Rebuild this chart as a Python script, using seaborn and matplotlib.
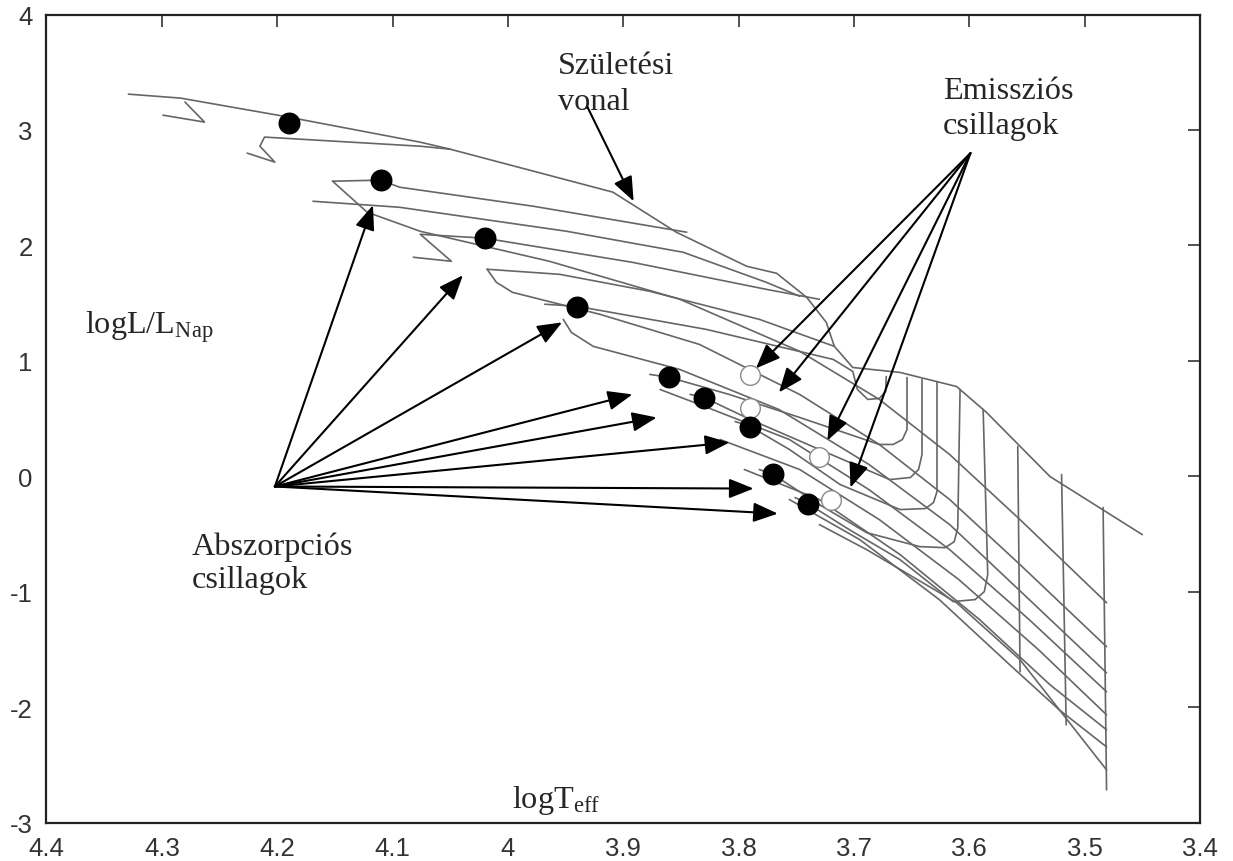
import matplotlib
matplotlib.use("Agg")
import matplotlib.pyplot as plt
import pandas as pd
import seaborn as sns

# ---------------- data (logT_eff, log L/L_sun) ----------------
birth_T = [4.329, 4.284, 4.195, 4.076, 4.050, 3.909, 3.854, 3.793, 3.767, 3.741,
           3.724, 3.717, 3.701, 3.660, 3.611, 3.585, 3.530, 3.450]
birth_L = [3.310, 3.276, 3.120, 2.894, 2.833, 2.461, 2.114, 1.819, 1.758, 1.550,
           1.333, 1.125, 0.942, 0.899, 0.777, 0.552, -0.003, -0.506]

# evolutionary tracks
trk1_T = [4.280, 4.263, 4.299]
trk1_L = [3.242, 3.068, 3.128]
trk2_T = [4.050, 4.076, 4.211, 4.215, 4.202, 4.226]
trk2_L = [2.833, 2.859, 2.938, 2.859, 2.721, 2.799]
trk3_T = [3.845, 3.978, 4.094, 4.110, 4.152]
trk3_L = [2.114, 2.339, 2.504, 2.565, 2.556]
trk4_T = [3.747, 3.776, 3.848, 3.949, 4.094, 4.169]
trk4_L = [1.559, 1.680, 1.940, 2.122, 2.330, 2.382]
trk5_T = [3.730, 3.776, 3.892, 4.020, 4.076, 4.049, 4.082]
trk5_L = [1.533, 1.619, 1.853, 2.062, 2.096, 1.862, 1.897]
trk6_T = [3.717, 3.782, 3.877, 3.955, 4.018]
trk6_L = [1.125, 1.359, 1.602, 1.749, 1.793]
trk7_T = [3.672, 3.6725, 3.678, 3.688, 3.697, 3.701, 3.718, 3.828, 3.940, 3.968]
trk7_L = [0.864, 0.735, 0.674, 0.665, 0.752, 0.908, 1.012, 1.272, 1.472, 1.490]
trk8_T = [3.654, 3.654, 3.658, 3.666, 3.678, 3.747, 3.808, 3.860, 3.877]
trk8_L = [0.855, 0.404, 0.318, 0.275, 0.275, 0.509, 0.708, 0.856, 0.882]
trk9_T = [3.641, 3.641, 3.644, 3.651, 3.669, 3.730, 3.790, 3.830, 3.842]
trk9_L = [0.838, 0.188, 0.058, -0.011, -0.029, 0.232, 0.492, 0.682, 0.709]
trk10_T = [3.628, 3.628, 3.631, 3.638, 3.660, 3.712, 3.756, 3.790, 3.803]
trk10_L = [0.820, -0.133, -0.228, -0.280, -0.289, -0.072, 0.232, 0.431, 0.474]
trk11_T = [3.608, 3.610, 3.613, 3.621, 3.643, 3.689, 3.730, 3.770, 3.782]
trk11_L = [0.751, -0.445, -0.567, -0.619, -0.610, -0.489, -0.246, 0.015, 0.058]
trk12_T = [3.588, 3.584, 3.587, 3.595, 3.614, 3.660, 3.704, 3.740, 3.751]
trk12_L = [0.578, -0.853, -1.000, -1.069, -1.086, -0.723, -0.463, -0.237, -0.185]
trk13_T = [3.558, 3.556]
trk13_L = [0.258, -1.694]
trk14_T = [3.520, 3.516]
trk14_L = [0.015, -2.154]
trk15_T = [3.484, 3.481]
trk15_L = [-0.271, -2.717]

# isochrones
iso1_T = [4.152, 4.122, 4.076, 3.964, 3.851, 3.747, 3.678, 3.617, 3.556, 3.481]
iso1_L = [2.556, 2.287, 2.122, 1.862, 1.533, 1.082, 0.665, 0.188, -0.376, -1.096]
iso2_T = [4.018, 4.010, 3.996, 3.920, 3.834, 3.747, 3.678, 3.617, 3.556, 3.481]
iso2_L = [1.793, 1.680, 1.593, 1.402, 1.142, 0.708, 0.275, -0.202, -0.766, -1.477]
iso3_T = [3.952, 3.945, 3.926, 3.851, 3.765, 3.687, 3.617, 3.548, 3.481]
iso3_L = [1.359, 1.246, 1.125, 0.925, 0.578, 0.102, -0.419, -1.069, -1.703]
iso4_T = [3.868, 3.834, 3.756, 3.687, 3.617, 3.548, 3.481]
iso4_L = [0.751, 0.622, 0.318, -0.116, -0.636, -1.243, -1.867]
iso5_T = [3.816, 3.747, 3.678, 3.609, 3.540, 3.481]
iso5_L = [0.318, 0.058, -0.376, -0.896, -1.503, -2.067]
iso6_T = [3.795, 3.730, 3.660, 3.591, 3.530, 3.481]
iso6_L = [0.058, -0.202, -0.679, -1.243, -1.807, -2.197]
iso7_T = [3.756, 3.695, 3.626, 3.565, 3.522, 3.481]
iso7_L = [-0.202, -0.549, -1.069, -1.633, -2.024, -2.345]
iso8_T = [3.730, 3.689, 3.611, 3.556, 3.481]
iso8_L = [-0.419, -0.636, -1.096, -1.590, -2.544]

# stars
absorb_T = [4.19, 4.11, 4.02, 3.94, 3.86, 3.83, 3.79, 3.77, 3.74]
absorb_L = [3.06, 2.57, 2.06, 1.47, 0.86, 0.68, 0.43, 0.02, -0.24]
emiss_T = [3.79, 3.79, 3.73, 3.72]
emiss_L = [0.88, 0.59, 0.17, -0.21]

# pointer arrows
absorb_src = (4.202, -0.089)
absorb_tip_T = [4.117, 4.039, 3.953, 3.892, 3.871, 3.808, 3.787, 3.766]
absorb_tip_L = [2.348, 1.741, 1.333, 0.709, 0.509, 0.292, -0.107, -0.324]
emiss_src = (3.599, 2.799)
emiss_tip_T = [3.785, 3.765, 3.723, 3.703]
emiss_tip_L = [0.934, 0.726, 0.309, -0.098]
birth_src = (3.931, 3.198)
birth_tip = (3.891, 2.382)

x_ticks = [4.4, 4.3, 4.2, 4.1, 4.0, 3.9, 3.8, 3.7, 3.6, 3.5, 3.4]
x_ticklabels = ["4.4", "4.3", "4.2", "4.1", "4", "3.9", "3.8", "3.7", "3.6", "3.5", "3.4"]
y_ticks = [-3, -2, -1, 0, 1, 2, 3, 4]
y_ticklabels = ["-3", "-2", "-1", "0", "1", "2", "3", "4"]

# ---------------- assemble long-form table ----------------
curves = {
    "birth": (birth_T, birth_L),
    "t1": (trk1_T, trk1_L), "t2": (trk2_T, trk2_L), "t3": (trk3_T, trk3_L),
    "t4": (trk4_T, trk4_L), "t5": (trk5_T, trk5_L), "t6": (trk6_T, trk6_L),
    "t7": (trk7_T, trk7_L), "t8": (trk8_T, trk8_L), "t9": (trk9_T, trk9_L),
    "t10": (trk10_T, trk10_L), "t11": (trk11_T, trk11_L), "t12": (trk12_T, trk12_L),
    "t13": (trk13_T, trk13_L), "t14": (trk14_T, trk14_L), "t15": (trk15_T, trk15_L),
    "i1": (iso1_T, iso1_L), "i2": (iso2_T, iso2_L), "i3": (iso3_T, iso3_L),
    "i4": (iso4_T, iso4_L), "i5": (iso5_T, iso5_L), "i6": (iso6_T, iso6_L),
    "i7": (iso7_T, iso7_L), "i8": (iso8_T, iso8_L),
}
rows = []
for name, (ts, ls) in curves.items():
    for k, (t, l) in enumerate(zip(ts, ls)):
        rows.append({"curve": name, "step": k, "logT": t, "logL": l})
lines_df = pd.DataFrame(rows)
stars_abs = pd.DataFrame({"logT": absorb_T, "logL": absorb_L})
stars_em = pd.DataFrame({"logT": emiss_T, "logL": emiss_L})

# ---------------- style ----------------
sns.set_theme(style="white")
plt.rcParams["font.family"] = ["Liberation Sans", "DejaVu Sans"]
plt.rcParams["mathtext.fontset"] = "custom"
plt.rcParams["mathtext.rm"] = "Liberation Serif"
plt.rcParams["mathtext.it"] = "Liberation Serif:italic"
plt.rcParams["axes.unicode_minus"] = False

fig = plt.figure(figsize=(12.33, 8.62), dpi=100)
ax = fig.add_axes([0.03771, 0.04466, 0.93552, 0.93735])

sns.lineplot(data=lines_df, x="logT", y="logL", units="curve", estimator=None,
             sort=False, color="#666666", linewidth=1.2, ax=ax, legend=False)

sns.scatterplot(data=stars_em, x="logT", y="logL", s=200, facecolor="white",
                edgecolor="#8a8a8a", linewidth=1.0, ax=ax, zorder=4)
sns.scatterplot(data=stars_abs, x="logT", y="logL", s=250, color="black",
                edgecolor="black", linewidth=0, ax=ax, zorder=5)

arrow_kw = dict(arrowstyle="-|>,head_length=0.75,head_width=0.3",
                color="black", lw=1.5, mutation_scale=20, shrinkA=0, shrinkB=0)
for t, l in zip(absorb_tip_T, absorb_tip_L):
    ax.annotate("", xy=(t, l), xytext=absorb_src, arrowprops=arrow_kw, zorder=6)
for t, l in zip(emiss_tip_T, emiss_tip_L):
    ax.annotate("", xy=(t, l), xytext=emiss_src, arrowprops=arrow_kw, zorder=6)
ax.annotate("", xy=birth_tip, xytext=birth_src, arrowprops=arrow_kw, zorder=6)

serif = ["Liberation Serif", "DejaVu Serif"]
tsize = 23.2
ax.text(0.4434, 0.9276, "Születési", transform=ax.transAxes, family=serif,
        fontsize=tsize, ha="left", va="baseline")
ax.text(0.4434, 0.8830, "vonal", transform=ax.transAxes, family=serif,
        fontsize=tsize, ha="left", va="baseline")
ax.text(0.7772, 0.8967, "Emissziós", transform=ax.transAxes, family=serif,
        fontsize=tsize, ha="left", va="baseline")
ax.text(0.7772, 0.8533, "csillagok", transform=ax.transAxes, family=serif,
        fontsize=tsize, ha="left", va="baseline")
ax.text(0.1261, 0.3323, "Abszorpciós", transform=ax.transAxes, family=serif,
        fontsize=tsize, ha="left", va="baseline")
ax.text(0.1261, 0.2915, "csillagok", transform=ax.transAxes, family=serif,
        fontsize=tsize, ha="left", va="baseline")
ax.text(0.0334, 0.607, r"logL/L$_{\mathrm{Nap}}$", transform=ax.transAxes,
        family=serif, fontsize=tsize, ha="left", va="baseline")
ax.text(0.4036, 0.0192, r"logT$_{\mathrm{eff}}$", transform=ax.transAxes,
        family=serif, fontsize=tsize, ha="left", va="baseline")

ax.set_xlim(4.4, 3.4)
ax.set_ylim(-3, 4)
ax.set_xticks(x_ticks)
ax.set_xticklabels(x_ticklabels)
ax.set_yticks(y_ticks)
ax.set_yticklabels(y_ticklabels)
ax.set_xlabel("")
ax.set_ylabel("")
ax.tick_params(direction="in", length=8.5, width=1.2, top=True, right=True,
               labelsize=18.5, pad=10, colors="#333333", labelcolor="#333333")
for sp in ax.spines.values():
    sp.set_linewidth(1.6)
    sp.set_color("#222222")
    sp.set_visible(True)

fig.savefig("out.png", dpi=100, facecolor="white")
